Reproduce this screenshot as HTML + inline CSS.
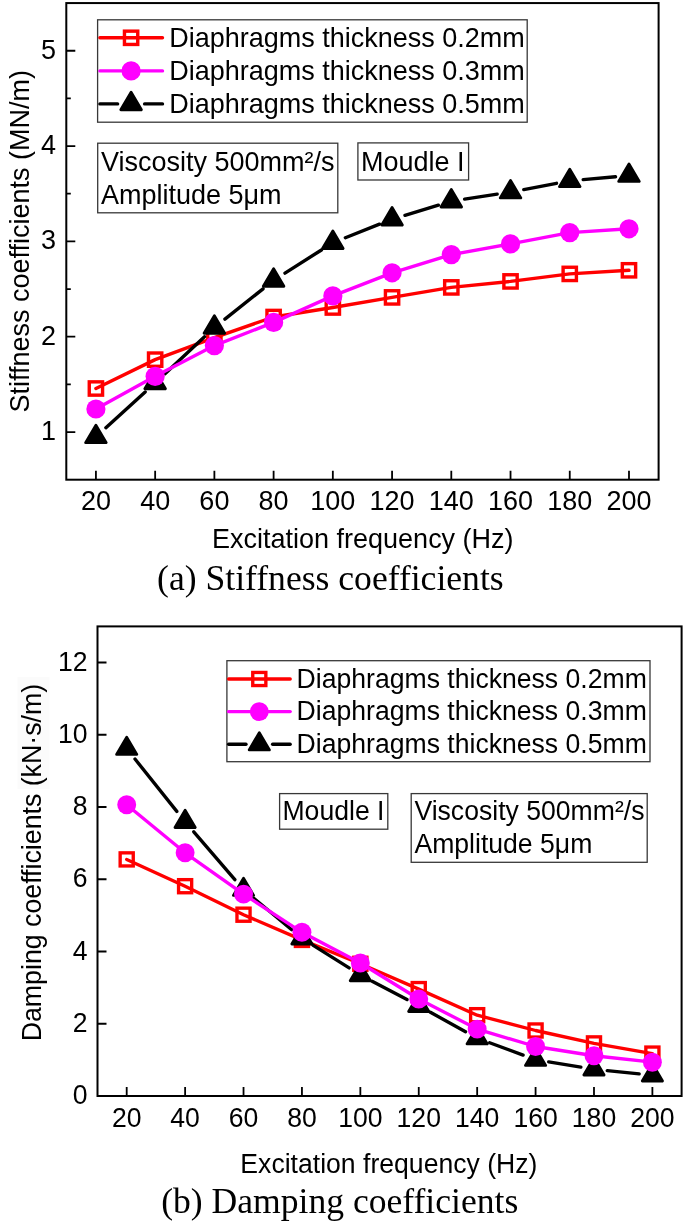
<!DOCTYPE html>
<html><head><meta charset="utf-8"><title>Stiffness and damping coefficients</title><style>
html,body{margin:0;padding:0;background:#fff;width:685px;height:1223px;overflow:hidden;}
svg{display:block;will-change:transform;}
</style></head><body>
<svg width="685" height="1223" viewBox="0 0 685 1223">
<rect width="685" height="1223" fill="#fff"/>
<rect x="66.3" y="3.07" width="592.30" height="476.63" fill="none" stroke="#000" stroke-width="2.0"/><path d="M95.92 479.70V470.70M155.15 479.70V470.70M214.38 479.70V470.70M273.61 479.70V470.70M332.84 479.70V470.70M392.07 479.70V470.70M451.30 479.70V470.70M510.53 479.70V470.70M569.76 479.70V470.70M628.99 479.70V470.70M66.30 432.04H75.30M66.30 336.71H75.30M66.30 241.38H75.30M66.30 146.06H75.30M66.30 50.73H75.30M66.30 384.37H70.80M66.30 289.05H70.80M66.30 193.72H70.80M66.30 98.40H70.80" stroke="#000" stroke-width="1.8" fill="none"/>
<text transform="translate(55.90 439.84) scale(1 1.02)" font-family="Liberation Sans, sans-serif" font-size="27.00" text-anchor="end">1</text>
<text transform="translate(55.90 344.51) scale(1 1.02)" font-family="Liberation Sans, sans-serif" font-size="27.00" text-anchor="end">2</text>
<text transform="translate(55.90 249.19) scale(1 1.02)" font-family="Liberation Sans, sans-serif" font-size="27.00" text-anchor="end">3</text>
<text transform="translate(55.90 153.86) scale(1 1.02)" font-family="Liberation Sans, sans-serif" font-size="27.00" text-anchor="end">4</text>
<text transform="translate(55.90 58.53) scale(1 1.02)" font-family="Liberation Sans, sans-serif" font-size="27.00" text-anchor="end">5</text>
<text transform="translate(95.92 510.20) scale(1 1.02)" font-family="Liberation Sans, sans-serif" font-size="27.00" text-anchor="middle">20</text>
<text transform="translate(155.15 510.20) scale(1 1.02)" font-family="Liberation Sans, sans-serif" font-size="27.00" text-anchor="middle">40</text>
<text transform="translate(214.38 510.20) scale(1 1.02)" font-family="Liberation Sans, sans-serif" font-size="27.00" text-anchor="middle">60</text>
<text transform="translate(273.61 510.20) scale(1 1.02)" font-family="Liberation Sans, sans-serif" font-size="27.00" text-anchor="middle">80</text>
<text transform="translate(332.84 510.20) scale(1 1.02)" font-family="Liberation Sans, sans-serif" font-size="27.00" text-anchor="middle">100</text>
<text transform="translate(392.07 510.20) scale(1 1.02)" font-family="Liberation Sans, sans-serif" font-size="27.00" text-anchor="middle">120</text>
<text transform="translate(451.30 510.20) scale(1 1.02)" font-family="Liberation Sans, sans-serif" font-size="27.00" text-anchor="middle">140</text>
<text transform="translate(510.53 510.20) scale(1 1.02)" font-family="Liberation Sans, sans-serif" font-size="27.00" text-anchor="middle">160</text>
<text transform="translate(569.76 510.20) scale(1 1.02)" font-family="Liberation Sans, sans-serif" font-size="27.00" text-anchor="middle">180</text>
<text transform="translate(628.99 510.20) scale(1 1.02)" font-family="Liberation Sans, sans-serif" font-size="27.00" text-anchor="middle">200</text>
<text transform="translate(212.04 548.30) scale(1 1.02)" font-family="Liberation Sans, sans-serif" font-size="27.00" text-anchor="start">Excitation frequency (Hz)</text>
<text transform="translate(29.00 241.20) rotate(-90) scale(1 1.02)" font-family="Liberation Sans, sans-serif" font-size="27.00" text-anchor="middle">Stiffness coefficients (MN/m)</text>
<rect x="97.60" y="19.80" width="429.60" height="102.40" fill="#fff" stroke="#383838" stroke-width="1.3"/><line x1="99.9" y1="37.8" x2="162.5" y2="37.8" stroke="#ff0000" stroke-width="3.40" stroke-linecap="round"/><rect x="124.45" y="31.15" width="13.30" height="13.30" fill="none" stroke="#ff0000" stroke-width="3.40"/><line x1="99.9" y1="70.9" x2="162.5" y2="70.9" stroke="#ff00ff" stroke-width="3.40" stroke-linecap="round"/><circle cx="131.10" cy="70.90" r="9.60" fill="#ff00ff"/><line x1="99.9" y1="103.9" x2="117.60" y2="103.9" stroke="#000000" stroke-width="3.40" stroke-linecap="round"/><line x1="144.60" y1="103.9" x2="162.5" y2="103.9" stroke="#000000" stroke-width="3.40" stroke-linecap="round"/><path d="M131.10 92.23L141.40 109.73L120.80 109.73Z" fill="#000000" stroke="#000000" stroke-width="2.80" stroke-linejoin="round"/><text transform="translate(169.14 46.70) scale(1 1.02)" font-family="Liberation Sans, sans-serif" font-size="27.00" text-anchor="start">Diaphragms thickness 0.2mm</text><text transform="translate(169.14 79.80) scale(1 1.02)" font-family="Liberation Sans, sans-serif" font-size="27.00" text-anchor="start">Diaphragms thickness 0.3mm</text><text transform="translate(169.14 112.70) scale(1 1.02)" font-family="Liberation Sans, sans-serif" font-size="27.00" text-anchor="start">Diaphragms thickness 0.5mm</text>
<rect x="97.70" y="143.20" width="240.10" height="69.60" fill="#fff" stroke="#383838" stroke-width="1.3"/>
<text transform="translate(101.00 171.00) scale(1 1.02)" font-family="Liberation Sans, sans-serif" font-size="27.00" text-anchor="start">Viscosity 500mm²/s</text>
<text transform="translate(101.00 203.80) scale(1 1.02)" font-family="Liberation Sans, sans-serif" font-size="27.00" text-anchor="start">Amplitude 5μm</text>
<rect x="357.90" y="142.90" width="110.70" height="37.10" fill="#fff" stroke="#383838" stroke-width="1.3"/>
<text transform="translate(361.04 170.90) scale(1 1.02)" font-family="Liberation Sans, sans-serif" font-size="27.00" text-anchor="start">Moudle I</text>
<polyline points="95.92,388.50 155.15,359.65 214.38,337.60 273.61,317.00 332.84,307.50 392.07,297.40 451.30,287.40 510.53,281.40 569.76,273.90 628.99,270.30" fill="none" stroke="#ff0000" stroke-width="3.40" stroke-linejoin="round" stroke-linecap="round"/><rect x="89.27" y="381.85" width="13.30" height="13.30" fill="none" stroke="#ff0000" stroke-width="3.40"/><rect x="148.50" y="353.00" width="13.30" height="13.30" fill="none" stroke="#ff0000" stroke-width="3.40"/><rect x="207.72" y="330.95" width="13.30" height="13.30" fill="none" stroke="#ff0000" stroke-width="3.40"/><rect x="266.96" y="310.35" width="13.30" height="13.30" fill="none" stroke="#ff0000" stroke-width="3.40"/><rect x="326.19" y="300.85" width="13.30" height="13.30" fill="none" stroke="#ff0000" stroke-width="3.40"/><rect x="385.42" y="290.75" width="13.30" height="13.30" fill="none" stroke="#ff0000" stroke-width="3.40"/><rect x="444.65" y="280.75" width="13.30" height="13.30" fill="none" stroke="#ff0000" stroke-width="3.40"/><rect x="503.88" y="274.75" width="13.30" height="13.30" fill="none" stroke="#ff0000" stroke-width="3.40"/><rect x="563.11" y="267.25" width="13.30" height="13.30" fill="none" stroke="#ff0000" stroke-width="3.40"/><rect x="622.34" y="263.65" width="13.30" height="13.30" fill="none" stroke="#ff0000" stroke-width="3.40"/><path d="M105.90 427.71L145.16 391.99M165.00 373.68L204.52 336.72M224.94 319.10L263.04 288.80M284.99 273.15L321.45 249.95M345.38 237.72L379.52 224.18M404.98 215.27L438.38 205.13M464.64 199.15L497.18 194.15M523.79 189.57L556.49 183.33M583.20 179.62L615.54 176.78" stroke="#000000" stroke-width="3.40" fill="none" stroke-linecap="round"/><path d="M95.92 425.13L106.22 442.63L85.62 442.63Z" fill="#000000" stroke="#000000" stroke-width="2.80" stroke-linejoin="round"/><path d="M155.15 371.23L165.45 388.73L144.84 388.73Z" fill="#000000" stroke="#000000" stroke-width="2.80" stroke-linejoin="round"/><path d="M214.38 315.83L224.68 333.33L204.07 333.33Z" fill="#000000" stroke="#000000" stroke-width="2.80" stroke-linejoin="round"/><path d="M273.61 268.73L283.91 286.23L263.31 286.23Z" fill="#000000" stroke="#000000" stroke-width="2.80" stroke-linejoin="round"/><path d="M332.84 231.03L343.14 248.53L322.54 248.53Z" fill="#000000" stroke="#000000" stroke-width="2.80" stroke-linejoin="round"/><path d="M392.07 207.53L402.37 225.03L381.77 225.03Z" fill="#000000" stroke="#000000" stroke-width="2.80" stroke-linejoin="round"/><path d="M451.30 189.53L461.60 207.03L441.00 207.03Z" fill="#000000" stroke="#000000" stroke-width="2.80" stroke-linejoin="round"/><path d="M510.53 180.43L520.83 197.93L500.23 197.93Z" fill="#000000" stroke="#000000" stroke-width="2.80" stroke-linejoin="round"/><path d="M569.76 169.13L580.06 186.63L559.46 186.63Z" fill="#000000" stroke="#000000" stroke-width="2.80" stroke-linejoin="round"/><path d="M628.99 163.93L639.28 181.43L618.69 181.43Z" fill="#000000" stroke="#000000" stroke-width="2.80" stroke-linejoin="round"/><polyline points="95.92,409.00 155.15,376.35 214.38,345.60 273.61,322.40 332.84,295.90 392.07,272.80 451.30,254.60 510.53,243.90 569.76,232.60 628.99,228.80" fill="none" stroke="#ff00ff" stroke-width="3.40" stroke-linejoin="round" stroke-linecap="round"/><circle cx="95.92" cy="409.00" r="9.60" fill="#ff00ff"/><circle cx="155.15" cy="376.35" r="9.60" fill="#ff00ff"/><circle cx="214.38" cy="345.60" r="9.60" fill="#ff00ff"/><circle cx="273.61" cy="322.40" r="9.60" fill="#ff00ff"/><circle cx="332.84" cy="295.90" r="9.60" fill="#ff00ff"/><circle cx="392.07" cy="272.80" r="9.60" fill="#ff00ff"/><circle cx="451.30" cy="254.60" r="9.60" fill="#ff00ff"/><circle cx="510.53" cy="243.90" r="9.60" fill="#ff00ff"/><circle cx="569.76" cy="232.60" r="9.60" fill="#ff00ff"/><circle cx="628.99" cy="228.80" r="9.60" fill="#ff00ff"/>
<rect x="97.5" y="626.4" width="584.10" height="469.60" fill="none" stroke="#000" stroke-width="2.0"/><path d="M126.70 1096.00V1087.00M185.12 1096.00V1087.00M243.53 1096.00V1087.00M301.94 1096.00V1087.00M360.35 1096.00V1087.00M418.75 1096.00V1087.00M477.17 1096.00V1087.00M535.58 1096.00V1087.00M593.99 1096.00V1087.00M652.39 1096.00V1087.00M97.50 1096.00H106.50M97.50 1023.75H106.50M97.50 951.51H106.50M97.50 879.26H106.50M97.50 807.02H106.50M97.50 734.77H106.50M97.50 662.52H106.50" stroke="#000" stroke-width="1.8" fill="none"/>
<text transform="translate(87.60 1104.10) scale(1 1.02)" font-family="Liberation Sans, sans-serif" font-size="26.60" text-anchor="end">0</text>
<text transform="translate(87.60 1031.85) scale(1 1.02)" font-family="Liberation Sans, sans-serif" font-size="26.60" text-anchor="end">2</text>
<text transform="translate(87.60 959.61) scale(1 1.02)" font-family="Liberation Sans, sans-serif" font-size="26.60" text-anchor="end">4</text>
<text transform="translate(87.60 887.36) scale(1 1.02)" font-family="Liberation Sans, sans-serif" font-size="26.60" text-anchor="end">6</text>
<text transform="translate(87.60 815.12) scale(1 1.02)" font-family="Liberation Sans, sans-serif" font-size="26.60" text-anchor="end">8</text>
<text transform="translate(87.60 742.87) scale(1 1.02)" font-family="Liberation Sans, sans-serif" font-size="26.60" text-anchor="end">10</text>
<text transform="translate(87.60 670.62) scale(1 1.02)" font-family="Liberation Sans, sans-serif" font-size="26.60" text-anchor="end">12</text>
<text transform="translate(126.70 1126.50) scale(1 1.02)" font-family="Liberation Sans, sans-serif" font-size="26.60" text-anchor="middle">20</text>
<text transform="translate(185.12 1126.50) scale(1 1.02)" font-family="Liberation Sans, sans-serif" font-size="26.60" text-anchor="middle">40</text>
<text transform="translate(243.53 1126.50) scale(1 1.02)" font-family="Liberation Sans, sans-serif" font-size="26.60" text-anchor="middle">60</text>
<text transform="translate(301.94 1126.50) scale(1 1.02)" font-family="Liberation Sans, sans-serif" font-size="26.60" text-anchor="middle">80</text>
<text transform="translate(360.35 1126.50) scale(1 1.02)" font-family="Liberation Sans, sans-serif" font-size="26.60" text-anchor="middle">100</text>
<text transform="translate(418.75 1126.50) scale(1 1.02)" font-family="Liberation Sans, sans-serif" font-size="26.60" text-anchor="middle">120</text>
<text transform="translate(477.17 1126.50) scale(1 1.02)" font-family="Liberation Sans, sans-serif" font-size="26.60" text-anchor="middle">140</text>
<text transform="translate(535.58 1126.50) scale(1 1.02)" font-family="Liberation Sans, sans-serif" font-size="26.60" text-anchor="middle">160</text>
<text transform="translate(593.99 1126.50) scale(1 1.02)" font-family="Liberation Sans, sans-serif" font-size="26.60" text-anchor="middle">180</text>
<text transform="translate(652.39 1126.50) scale(1 1.02)" font-family="Liberation Sans, sans-serif" font-size="26.60" text-anchor="middle">200</text>
<text transform="translate(240.37 1172.80) scale(1 1.02)" font-family="Liberation Sans, sans-serif" font-size="26.60" text-anchor="start">Excitation frequency (Hz)</text>
<rect x="17.5" y="677" width="32" height="112" fill="#fbfbfb"/>
<text transform="translate(40.90 862.60) rotate(-90) scale(1 1.02)" font-family="Liberation Sans, sans-serif" font-size="26.75" text-anchor="middle">Damping coefficients (kN·s/m)</text>
<rect x="226.90" y="660.70" width="423.10" height="101.00" fill="#fff" stroke="#383838" stroke-width="1.3"/><line x1="228.6" y1="679.0" x2="290.2" y2="679.0" stroke="#ff0000" stroke-width="3.35" stroke-linecap="round"/><rect x="252.75" y="672.45" width="13.10" height="13.10" fill="none" stroke="#ff0000" stroke-width="3.35"/><line x1="228.6" y1="711.6" x2="290.2" y2="711.6" stroke="#ff00ff" stroke-width="3.35" stroke-linecap="round"/><circle cx="259.30" cy="711.60" r="9.46" fill="#ff00ff"/><line x1="228.6" y1="744.2" x2="246.00" y2="744.2" stroke="#000000" stroke-width="3.35" stroke-linecap="round"/><line x1="272.60" y1="744.2" x2="290.2" y2="744.2" stroke="#000000" stroke-width="3.35" stroke-linecap="round"/><path d="M259.30 732.71L269.45 749.95L249.15 749.95Z" fill="#000000" stroke="#000000" stroke-width="2.76" stroke-linejoin="round"/><text transform="translate(296.57 688.20) scale(1 1.02)" font-family="Liberation Sans, sans-serif" font-size="26.60" text-anchor="start">Diaphragms thickness 0.2mm</text><text transform="translate(296.57 719.90) scale(1 1.02)" font-family="Liberation Sans, sans-serif" font-size="26.60" text-anchor="start">Diaphragms thickness 0.3mm</text><text transform="translate(296.57 752.50) scale(1 1.02)" font-family="Liberation Sans, sans-serif" font-size="26.60" text-anchor="start">Diaphragms thickness 0.5mm</text>
<rect x="279.60" y="793.60" width="108.20" height="35.60" fill="#fff" stroke="#383838" stroke-width="1.3"/>
<text transform="translate(282.47 820.00) scale(1 1.02)" font-family="Liberation Sans, sans-serif" font-size="26.60" text-anchor="start">Moudle I</text>
<rect x="411.20" y="793.60" width="236.00" height="68.70" fill="#fff" stroke="#383838" stroke-width="1.3"/>
<text transform="translate(414.40 820.00) scale(1 1.02)" font-family="Liberation Sans, sans-serif" font-size="26.60" text-anchor="start">Viscosity 500mm²/s</text>
<text transform="translate(414.40 852.80) scale(1 1.02)" font-family="Liberation Sans, sans-serif" font-size="26.60" text-anchor="start">Amplitude 5μm</text>
<polyline points="126.70,859.40 185.12,886.20 243.53,914.70 301.94,939.90 360.35,963.80 418.75,989.10 477.17,1015.20 535.58,1030.50 593.99,1043.40 652.39,1053.60" fill="none" stroke="#ff0000" stroke-width="3.35" stroke-linejoin="round" stroke-linecap="round"/><rect x="120.15" y="852.85" width="13.10" height="13.10" fill="none" stroke="#ff0000" stroke-width="3.35"/><rect x="178.56" y="879.65" width="13.10" height="13.10" fill="none" stroke="#ff0000" stroke-width="3.35"/><rect x="236.97" y="908.15" width="13.10" height="13.10" fill="none" stroke="#ff0000" stroke-width="3.35"/><rect x="295.38" y="933.35" width="13.10" height="13.10" fill="none" stroke="#ff0000" stroke-width="3.35"/><rect x="353.79" y="957.25" width="13.10" height="13.10" fill="none" stroke="#ff0000" stroke-width="3.35"/><rect x="412.20" y="982.55" width="13.10" height="13.10" fill="none" stroke="#ff0000" stroke-width="3.35"/><rect x="470.61" y="1008.65" width="13.10" height="13.10" fill="none" stroke="#ff0000" stroke-width="3.35"/><rect x="529.02" y="1023.95" width="13.10" height="13.10" fill="none" stroke="#ff0000" stroke-width="3.35"/><rect x="587.43" y="1036.85" width="13.10" height="13.10" fill="none" stroke="#ff0000" stroke-width="3.35"/><rect x="645.84" y="1047.05" width="13.10" height="13.10" fill="none" stroke="#ff0000" stroke-width="3.35"/><path d="M135.01 759.04L176.81 811.36M193.78 831.83L234.86 879.62M253.75 898.21L291.71 929.79M313.19 945.37L349.09 967.93M372.11 981.20L406.99 999.60M430.38 1012.25L465.54 1031.75M489.64 1042.79L523.10 1055.11M548.70 1061.86L580.86 1067.14M607.21 1070.66L639.17 1073.94" stroke="#000000" stroke-width="3.35" fill="none" stroke-linecap="round"/><path d="M126.70 737.16L136.85 754.40L116.56 754.40Z" fill="#000000" stroke="#000000" stroke-width="2.76" stroke-linejoin="round"/><path d="M185.12 810.26L195.26 827.50L174.97 827.50Z" fill="#000000" stroke="#000000" stroke-width="2.76" stroke-linejoin="round"/><path d="M243.53 878.21L253.67 895.45L233.38 895.45Z" fill="#000000" stroke="#000000" stroke-width="2.76" stroke-linejoin="round"/><path d="M301.94 926.81L312.08 944.05L291.79 944.05Z" fill="#000000" stroke="#000000" stroke-width="2.76" stroke-linejoin="round"/><path d="M360.35 963.51L370.49 980.75L350.20 980.75Z" fill="#000000" stroke="#000000" stroke-width="2.76" stroke-linejoin="round"/><path d="M418.75 994.31L428.90 1011.55L408.61 1011.55Z" fill="#000000" stroke="#000000" stroke-width="2.76" stroke-linejoin="round"/><path d="M477.17 1026.71L487.31 1043.95L467.02 1043.95Z" fill="#000000" stroke="#000000" stroke-width="2.76" stroke-linejoin="round"/><path d="M535.58 1048.21L545.72 1065.45L525.43 1065.45Z" fill="#000000" stroke="#000000" stroke-width="2.76" stroke-linejoin="round"/><path d="M593.99 1057.81L604.13 1075.05L583.84 1075.05Z" fill="#000000" stroke="#000000" stroke-width="2.76" stroke-linejoin="round"/><path d="M652.39 1063.81L662.54 1081.05L642.25 1081.05Z" fill="#000000" stroke="#000000" stroke-width="2.76" stroke-linejoin="round"/><polyline points="126.70,804.80 185.12,852.80 243.53,894.10 301.94,932.30 360.35,963.00 418.75,999.00 477.17,1029.10 535.58,1046.50 593.99,1055.75 652.39,1062.20" fill="none" stroke="#ff00ff" stroke-width="3.35" stroke-linejoin="round" stroke-linecap="round"/><circle cx="126.70" cy="804.80" r="9.46" fill="#ff00ff"/><circle cx="185.12" cy="852.80" r="9.46" fill="#ff00ff"/><circle cx="243.53" cy="894.10" r="9.46" fill="#ff00ff"/><circle cx="301.94" cy="932.30" r="9.46" fill="#ff00ff"/><circle cx="360.35" cy="963.00" r="9.46" fill="#ff00ff"/><circle cx="418.75" cy="999.00" r="9.46" fill="#ff00ff"/><circle cx="477.17" cy="1029.10" r="9.46" fill="#ff00ff"/><circle cx="535.58" cy="1046.50" r="9.46" fill="#ff00ff"/><circle cx="593.99" cy="1055.75" r="9.46" fill="#ff00ff"/><circle cx="652.39" cy="1062.20" r="9.46" fill="#ff00ff"/>
<text transform="translate(157.08 589.80) scale(1 0.995)" font-family="Liberation Serif, sans-serif" font-size="35.60" text-anchor="start">(a) Stiffness coefficients</text>
<text transform="translate(161.18 1213.30) scale(1 0.995)" font-family="Liberation Serif, sans-serif" font-size="35.60" text-anchor="start">(b) Damping coefficients</text>
</svg>
</body></html>
